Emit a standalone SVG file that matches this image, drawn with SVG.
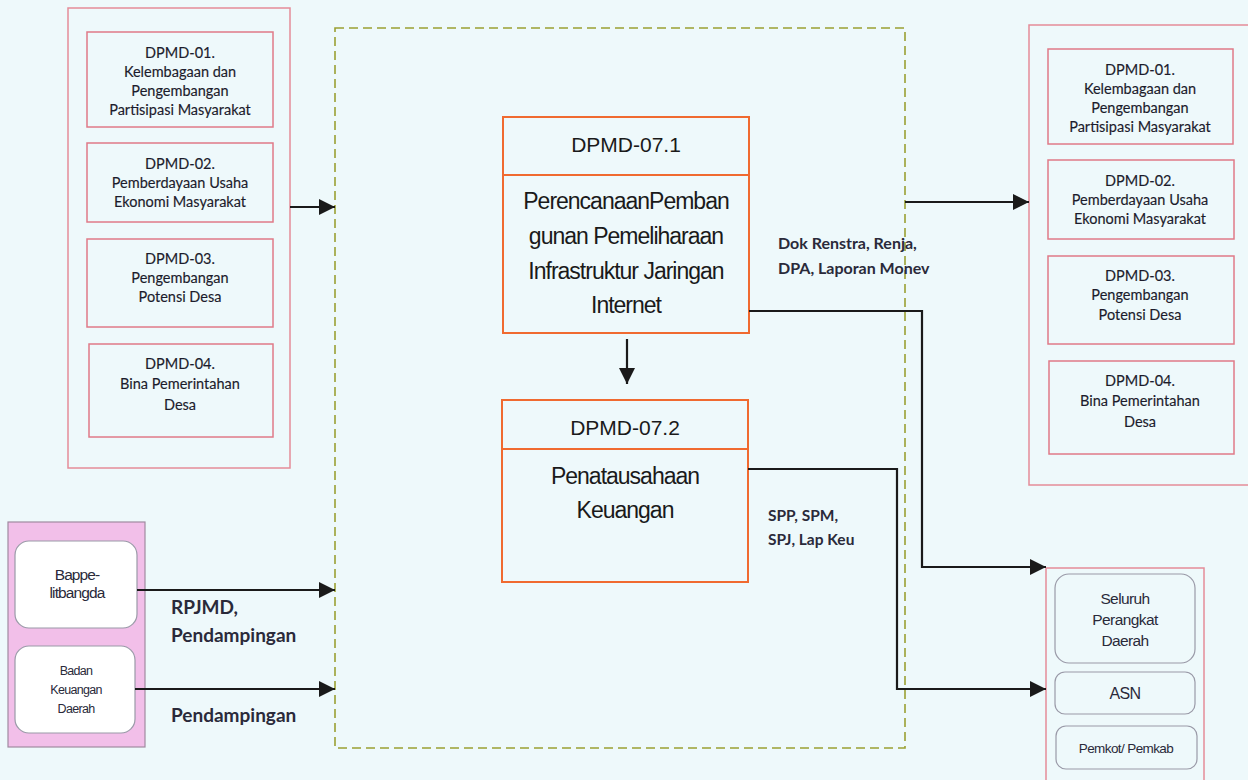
<svg xmlns="http://www.w3.org/2000/svg" width="1248" height="780" viewBox="0 0 1248 780">
  <defs>
    <marker id="arrowL" viewBox="0 0 10 10" refX="10" refY="5" markerWidth="18" markerHeight="16" markerUnits="userSpaceOnUse" orient="auto">
      <path d="M0,0 L10,5 L0,10 z" fill="#1a1a1a"/>
    </marker>
  </defs>
  <style>
    .outer { fill: none; stroke: #e58c99; stroke-width: 1.5; }
    .unit { fill: none; stroke: #e07a88; stroke-width: 1.5; }
    .proc { fill: none; stroke: #f06a30; stroke-width: 2; }
    .soft { fill: #ffffff; stroke: #9a9aa8; stroke-width: 1.2; }
    .soft2 { fill: none; stroke: #9a9aa8; stroke-width: 1.2; }
    .scope { fill: none; stroke: #9aa033; stroke-width: 1.6; stroke-dasharray: 9 5; }
    .wire { fill: none; stroke: #1a1a1a; stroke-width: 2.2; }
    .small { font-family: Lato, "Liberation Sans", sans-serif; font-size: 14.5px; fill: #1c1c2c; stroke: #1c1c2c; stroke-width: 0.15px; text-anchor: middle; }
    .head { font-family: "Liberation Sans", Arial, sans-serif; font-size: 21px; fill: #1a1a1a; text-anchor: middle; }
    .body { font-family: "Liberation Sans", Arial, sans-serif; font-size: 23px; fill: #1a1a1a; text-anchor: middle; letter-spacing: -1px; }
    .sans { font-family: "Liberation Sans", Arial, sans-serif; fill: #2a2a3a; text-anchor: middle; }
    .lbl { font-family: Lato, "Liberation Sans", sans-serif; font-weight: bold; fill: #2a2a3a; }
  </style>

  <rect width="1248" height="780" fill="#eef9fb"/>

  <!-- scope of the DPMD-07 work unit -->
  <rect id="scope" class="scope" x="335" y="28" width="570" height="720"/>

  <!-- left: upstream DPMD divisions -->
  <g id="left-divisions">
    <rect class="outer" x="68" y="8" width="222" height="460"/>
    <g id="l-dpmd01">
      <rect class="unit" x="87" y="32" width="186" height="95"/>
      <text class="small" x="180" y="58">DPMD-01.</text>
      <text class="small" x="180" y="77">Kelembagaan dan</text>
      <text class="small" x="180" y="96">Pengembangan</text>
      <text class="small" x="180" y="115">Partisipasi Masyarakat</text>
    </g>
    <g id="l-dpmd02">
      <rect class="unit" x="87" y="143" width="186" height="79"/>
      <text class="small" x="180" y="169">DPMD-02.</text>
      <text class="small" x="180" y="188">Pemberdayaan Usaha</text>
      <text class="small" x="180" y="207">Ekonomi Masyarakat</text>
    </g>
    <g id="l-dpmd03">
      <rect class="unit" x="87" y="239" width="186" height="88"/>
      <text class="small" x="180" y="264">DPMD-03.</text>
      <text class="small" x="180" y="283">Pengembangan</text>
      <text class="small" x="180" y="302">Potensi Desa</text>
    </g>
    <g id="l-dpmd04">
      <rect class="unit" x="89" y="344" width="184" height="93"/>
      <text class="small" x="180" y="369">DPMD-04.</text>
      <text class="small" x="180" y="389">Bina Pemerintahan</text>
      <text class="small" x="180" y="410">Desa</text>
    </g>
  </g>

  <!-- left bottom: external agencies -->
  <g id="agencies">
    <rect x="8" y="522" width="137" height="225" fill="#f2bfe9" stroke="#a08aa0" stroke-width="1.2"/>
    <g id="bappelitbangda">
      <rect class="soft" x="15" y="541" width="122" height="87" rx="14"/>
      <text class="sans" x="77" y="580" font-size="15.5" letter-spacing="-0.9">Bappe-</text>
      <text class="sans" x="77" y="598" font-size="15.5" letter-spacing="-0.9">litbangda</text>
    </g>
    <g id="bkd">
      <rect class="soft" x="15" y="646" width="120" height="87" rx="14"/>
      <text class="sans" x="76" y="675" font-size="12.5" letter-spacing="-0.7">Badan</text>
      <text class="sans" x="76" y="694" font-size="12.5" letter-spacing="-0.7">Keuangan</text>
      <text class="sans" x="76" y="713" font-size="12.5" letter-spacing="-0.7">Daerah</text>
    </g>
  </g>

  <!-- process DPMD-07.1 -->
  <g id="dpmd-07-1">
    <rect class="proc" x="503" y="117" width="246" height="216"/>
    <line class="proc" x1="503" y1="175" x2="749" y2="175"/>
    <text class="head" x="626" y="152">DPMD-07.1</text>
    <text class="body" x="626" y="209">PerencanaanPemban</text>
    <text class="body" x="626" y="244">gunan Pemeliharaan</text>
    <text class="body" x="626" y="279">Infrastruktur Jaringan</text>
    <text class="body" x="626" y="313">Internet</text>
  </g>

  <!-- process DPMD-07.2 -->
  <g id="dpmd-07-2">
    <rect class="proc" x="502" y="400" width="246" height="182"/>
    <line class="proc" x1="502" y1="449" x2="748" y2="449"/>
    <text class="head" x="625" y="435">DPMD-07.2</text>
    <text class="body" x="625" y="484">Penatausahaan</text>
    <text class="body" x="625" y="518">Keuangan</text>
  </g>

  <!-- right top: downstream DPMD divisions -->
  <g id="right-divisions">
    <rect class="outer" x="1029" y="25" width="230" height="460"/>
    <g id="r-dpmd01">
      <rect class="unit" x="1048" y="49" width="185" height="95"/>
      <text class="small" x="1140" y="75">DPMD-01.</text>
      <text class="small" x="1140" y="94">Kelembagaan dan</text>
      <text class="small" x="1140" y="113">Pengembangan</text>
      <text class="small" x="1140" y="132">Partisipasi Masyarakat</text>
    </g>
    <g id="r-dpmd02">
      <rect class="unit" x="1048" y="160" width="186" height="79"/>
      <text class="small" x="1140" y="186">DPMD-02.</text>
      <text class="small" x="1140" y="205">Pemberdayaan Usaha</text>
      <text class="small" x="1140" y="224">Ekonomi Masyarakat</text>
    </g>
    <g id="r-dpmd03">
      <rect class="unit" x="1048" y="256" width="186" height="88"/>
      <text class="small" x="1140" y="281">DPMD-03.</text>
      <text class="small" x="1140" y="300">Pengembangan</text>
      <text class="small" x="1140" y="320">Potensi Desa</text>
    </g>
    <g id="r-dpmd04">
      <rect class="unit" x="1049" y="361" width="185" height="93"/>
      <text class="small" x="1140" y="386">DPMD-04.</text>
      <text class="small" x="1140" y="406">Bina Pemerintahan</text>
      <text class="small" x="1140" y="427">Desa</text>
    </g>
  </g>

  <!-- right bottom: service recipients -->
  <g id="recipients">
    <rect class="outer" x="1046" y="568" width="158" height="230"/>
    <g id="perangkat-daerah">
      <rect class="soft2" x="1055" y="574" width="140" height="89" rx="14"/>
      <text class="sans" x="1125" y="604" font-size="15.5" letter-spacing="-0.6">Seluruh</text>
      <text class="sans" x="1125" y="625" font-size="15.5" letter-spacing="-0.6">Perangkat</text>
      <text class="sans" x="1125" y="646" font-size="15.5" letter-spacing="-0.6">Daerah</text>
    </g>
    <g id="asn">
      <rect class="soft2" x="1055" y="672" width="140" height="42" rx="10"/>
      <text class="sans" x="1125" y="699" font-size="16" letter-spacing="-0.6">ASN</text>
    </g>
    <g id="pemkot-pemkab">
      <rect class="soft2" x="1056" y="726" width="141" height="43" rx="10"/>
      <text class="sans" x="1126" y="753" font-size="13.5" letter-spacing="-0.6">Pemkot/ Pemkab</text>
    </g>
  </g>

  <!-- connectors -->
  <g id="connectors">
    <line class="wire" x1="290" y1="207" x2="335" y2="207" marker-end="url(#arrowL)"/>
    <line class="wire" x1="137" y1="590" x2="335" y2="590" marker-end="url(#arrowL)"/>
    <line class="wire" x1="135" y1="689" x2="335" y2="689" marker-end="url(#arrowL)"/>
    <line class="wire" x1="905" y1="202" x2="1029" y2="202" marker-end="url(#arrowL)"/>
    <line class="wire" x1="627" y1="339" x2="627" y2="384" marker-end="url(#arrowL)"/>
    <polyline class="wire" points="749,311 922,311 922,567 1046,567" marker-end="url(#arrowL)"/>
    <polyline class="wire" points="748,469 897,469 897,689 1046,689" marker-end="url(#arrowL)"/>
  </g>

  <!-- flow labels -->
  <g id="labels">
    <text class="lbl" x="171" y="614" font-size="19">RPJMD,</text>
    <text class="lbl" x="171" y="642" font-size="19">Pendampingan</text>
    <text class="lbl" x="171" y="722" font-size="19">Pendampingan</text>
    <text class="lbl" x="778" y="249" font-size="16">Dok Renstra, Renja,</text>
    <text class="lbl" x="778" y="274" font-size="16">DPA, Laporan Monev</text>
    <text class="lbl" x="768" y="521" font-size="15.5">SPP, SPM,</text>
    <text class="lbl" x="768" y="545" font-size="15.5">SPJ, Lap Keu</text>
  </g>
</svg>
